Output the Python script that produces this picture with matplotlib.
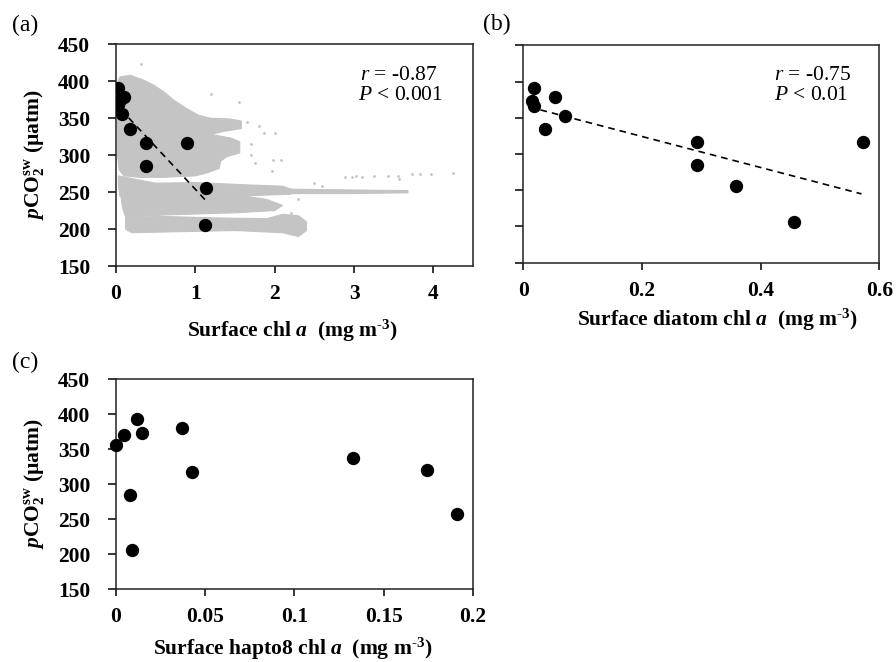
import matplotlib
matplotlib.use("Agg")
import matplotlib.pyplot as plt
import numpy as np

plt.rcParams['font.family'] = ['Liberation Serif', 'DejaVu Serif']
plt.rcParams['mathtext.fontset'] = 'custom'
plt.rcParams['mathtext.rm'] = 'Liberation Serif:bold'
plt.rcParams['mathtext.it'] = 'Liberation Serif:italic'
plt.rcParams['mathtext.bf'] = 'Liberation Serif:bold'
plt.rcParams['mathtext.bfit'] = 'Liberation Serif:bold:italic'

# ---------------- data ----------------
pco2 = [391, 379, 374, 368, 356, 336, 317, 285, 317, 255, 205]
chl = [0.03, 0.10, 0.05, 0.02, 0.08, 0.18, 0.38, 0.38, 0.90, 1.14, 1.12]

diatom_x = [0.018, 0.053, 0.015, 0.018, 0.071, 0.037, 0.292, 0.292, 0.572, 0.358, 0.457]
diatom_y = [391, 379, 373, 366, 353, 335, 316, 285, 316, 256, 206]

hapto_x = [0.000, 0.0043, 0.0116, 0.0144, 0.0372, 0.0424, 0.0079, 0.0088, 0.1327, 0.1742, 0.191]
hapto_y = [356, 370, 393, 373, 380, 318, 285, 206, 337, 320, 258]

fit_a_x = [0.06, 1.12]
fit_a_y = [362, 240]
fit_b_x = [0.01, 0.57]
fit_b_y = [365, 245]

# underway (gray) data cloud, read as envelope polygons
cloud_main_x = [0.02, 0.05, 0.18, 0.34, 0.47, 0.60, 0.72, 0.89, 1.04, 1.19, 1.44, 1.58, 1.58, 1.35,
                1.20, 1.45, 1.56, 1.56, 1.40, 1.32, 1.30, 1.15, 1.00, 0.60, 0.30, 0.10, 0.04, 0.02, 0.02]
cloud_main_y = [398, 406, 408, 402, 395, 386, 375, 363, 354, 350, 349, 346, 336, 332,
                328, 323, 318, 303, 298, 292, 282, 276, 272, 270, 270, 272, 280, 300, 340]
cloud_b_x = [0.03, 0.50, 1.00, 1.60, 2.10, 2.25, 2.20, 1.60, 1.00, 0.05, 0.03]
cloud_b_y = [272, 262, 263, 260, 258, 252, 247, 245, 244, 244, 260]
cloud_b2_x = [2.20, 2.90, 3.68, 3.68, 2.90, 2.20]
cloud_b2_y = [254, 253, 252, 249, 248, 248]
cloud_c_x = [0.06, 1.50, 1.90, 2.10, 2.00, 1.50, 0.60, 0.12, 0.08]
cloud_c_y = [247, 247, 240, 232, 225, 222, 219, 216, 230]
cloud_d_x = [0.12, 0.60, 1.30, 1.90, 2.10, 2.30, 2.40, 2.40, 2.30, 2.10, 1.50, 0.60, 0.20, 0.12]
cloud_d_y = [216, 217, 215, 214, 220, 218, 210, 198, 190, 195, 198, 196, 195, 200]
sparse_x = [0.32, 1.20, 1.55, 1.80, 1.86, 2.01, 1.70, 1.98, 2.08, 1.97, 1.75, 2.89, 2.97, 3.03,
            3.10, 3.25, 3.43, 3.55, 3.57, 3.73, 3.83, 3.97, 4.25, 2.50, 2.60, 1.80, 2.00, 2.20,
            1.65, 1.70, 2.30, 2.55, 2.70]
sparse_y = [423, 383, 372, 340, 330, 330, 315, 294, 294, 279, 290, 270, 271, 272,
            271, 272, 272, 272, 268, 275, 275, 275, 276, 262, 258, 235, 228, 222,
            345, 300, 240, 250, 251]

yticks = [150, 200, 250, 300, 350, 400, 450]
xticks_a = [0, 1, 2, 3, 4]
xticks_b = [0, 0.2, 0.4, 0.6]
xticklabels_b = ['0', '0.2', '0.4', '0.6']
xticks_c = [0, 0.05, 0.1, 0.15, 0.2]
xticklabels_c = ['0', '0.05', '0.1', '0.15', '0.2']

# ---------------- figure ----------------
W, H = 896, 662
fig = plt.figure(figsize=(W / 100, H / 100), dpi=100)


def axes_px(left, top, right, bottom):
    return fig.add_axes([left / W, 1 - bottom / H, (right - left) / W, (bottom - top) / H])


ax_a = axes_px(116, 44.3, 473, 266)
ax_b = axes_px(523.3, 45.4, 879.3, 262.7)
ax_c = axes_px(116, 379.3, 472.7, 589.3)

FS = 15.5
gray = '#c4c4c4'
ylab = r'$\mathbfit{p}\mathbf{CO_2^{sw}}$ (µatm)'
unit = r'(mg m$^{\text{-}3}$)'


def style(ax, xticks, xlabels, show_ylabels=True):
    ax.set_ylim(150, 450)
    ax.set_yticks(yticks)
    if show_ylabels:
        ax.set_yticklabels([str(v) for v in yticks], fontweight='bold', fontsize=FS)
    else:
        ax.set_yticklabels([])
    ax.set_xticks(xticks)
    ax.set_xticklabels(xlabels, fontweight='bold', fontsize=FS)
    ax.tick_params(axis='y', direction='out', length=5.5, width=1.1, pad=13, colors='black')
    ax.tick_params(axis='x', direction='out', length=5, width=1.1, pad=8, colors='black')
    for s in ax.spines.values():
        s.set_linewidth(1.1)
        s.set_color('#222222')


# panel (a)
for px, py in [(cloud_main_x, cloud_main_y), (cloud_b_x, cloud_b_y), (cloud_b2_x, cloud_b2_y),
               (cloud_c_x, cloud_c_y), (cloud_d_x, cloud_d_y)]:
    ax_a.fill(px, py, color=gray, lw=0.8, ec=gray, zorder=1)
ax_a.scatter(sparse_x, sparse_y, s=4, color=gray, lw=0, zorder=1)
ax_a.plot(fit_a_x, fit_a_y, ls=(0, (4, 3)), color='black', lw=1.2, zorder=2)
ax_a.scatter(chl, pco2, s=92, color='black', zorder=3, lw=0)
ax_a.set_xlim(0, 4.5)
style(ax_a, xticks_a, [str(v) for v in xticks_a])
ax_a.text(0.683, 0.86, r'$r$ = -0.87', transform=ax_a.transAxes, fontsize=FS, va='center',
          fontweight='normal')
ax_a.text(0.678, 0.77, r'$P$ < 0.001', transform=ax_a.transAxes, fontsize=FS, va='center',
          fontweight='normal')

# panel (b)
ax_b.plot(fit_b_x, fit_b_y, ls=(0, (4, 3)), color='black', lw=1.2, zorder=2)
ax_b.scatter(diatom_x, diatom_y, s=92, color='black', zorder=3, lw=0)
ax_b.set_xlim(0, 0.6)
style(ax_b, xticks_b, xticklabels_b, show_ylabels=False)
ax_b.text(0.705, 0.86, r'$r$ = -0.75', transform=ax_b.transAxes, fontsize=FS, va='center')
ax_b.text(0.705, 0.77, r'$P$ < 0.01', transform=ax_b.transAxes, fontsize=FS, va='center')

# panel (c)
ax_c.scatter(hapto_x, hapto_y, s=92, color='black', zorder=3, lw=0, clip_on=False)
ax_c.set_xlim(0, 0.2)
style(ax_c, xticks_c, xticklabels_c)

# axis labels
fig.text(292 / W, 1 - 331 / H, r'Surface chl $\mathbfit{a}$  ' + unit,
         fontsize=FS, fontweight='bold', ha='center', va='center')
fig.text(717 / W, 1 - 320 / H, r'Surface diatom chl $\mathbfit{a}$  ' + unit,
         fontsize=FS, fontweight='bold', ha='center', va='center')
fig.text(293 / W, 1 - 649 / H, r'Surface hapto8 chl $\mathbfit{a}$  ' + unit,
         fontsize=FS, fontweight='bold', ha='center', va='center')
fig.text(35 / W, 1 - 155 / H, ylab, fontsize=FS, fontweight='bold', rotation=90,
         ha='center', va='center')
fig.text(35 / W, 1 - 484 / H, ylab, fontsize=FS, fontweight='bold', rotation=90,
         ha='center', va='center')

# panel letters
fig.text(12 / W, 1 - 25 / H, '(a)', fontsize=17, ha='left', va='center')
fig.text(483 / W, 1 - 24 / H, '(b)', fontsize=17, ha='left', va='center')
fig.text(12 / W, 1 - 362 / H, '(c)', fontsize=17, ha='left', va='center')

fig.savefig('out.png', dpi=100)
